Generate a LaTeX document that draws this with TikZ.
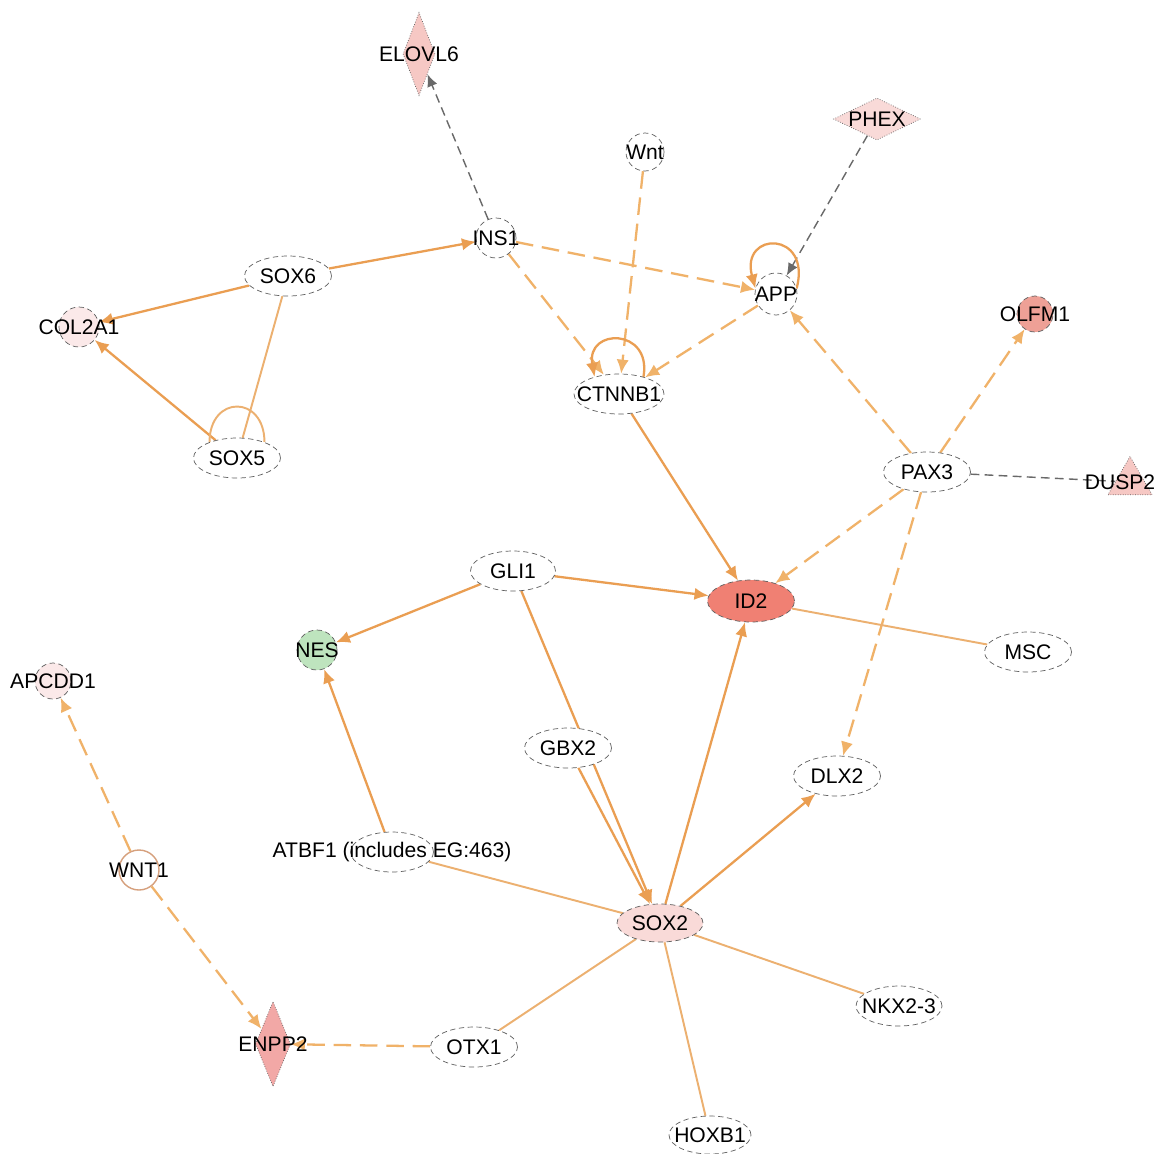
\documentclass[tikz,border=0pt]{standalone}
\usepackage{fontspec}
\setmainfont{Liberation Sans}
\usetikzlibrary{arrows.meta}
\usetikzlibrary{shapes,arrows}
\usetikzlibrary{shapes.geometric}

\definecolor{nodeline}{RGB}{95,95,95}
\definecolor{edgeorange}{RGB}{234,158,82}
\definecolor{dashorange}{RGB}{240,178,105}
\definecolor{bindorange}{RGB}{236,176,112}
\definecolor{graylink}{RGB}{105,105,105}
\definecolor{palepink}{RGB}{251,233,233}
\definecolor{lightpink}{RGB}{249,218,216}
\definecolor{midpink}{RGB}{246,200,196}
\definecolor{deeppink}{RGB}{242,168,166}
\definecolor{salmon}{RGB}{238,160,150}
\definecolor{idred}{RGB}{240,128,115}
\definecolor{nesgreen}{RGB}{190,228,190}
\definecolor{wntring}{RGB}{214,160,125}

\pgfdeclarelayer{paper}
\pgfdeclarelayer{bg}
\pgfsetlayers{paper,bg,main}

\begin{document}
\begin{tikzpicture}[x=0.02cm,y=-0.02cm,font=\fontsize{12}{14}\selectfont]
\tikzset{
    gene/.style={
        draw=nodeline,
        densely dashed,
        line width=0.4pt,
        fill=white,
        ellipse,
        minimum width=1.74cm,
        minimum height=0.8cm,
        inner sep=0pt,
        label={center:#1}
    },
    gene-circle/.style={
        draw=nodeline,
        densely dashed,
        line width=0.4pt,
        fill=white,
        circle,
        minimum size=0.8cm,
        inner sep=0pt,
        label={center:#1}
    },
    gene-diamond/.style={
        draw=nodeline,
        densely dotted,
        line width=0.4pt,
        diamond,
        inner sep=0pt,
        label={center:#1}
    },
    gene-triangle/.style={
        draw=nodeline,
        densely dotted,
        line width=0.4pt,
        regular polygon,
        regular polygon sides=3,
        minimum size=1.02cm,
        inner sep=0pt
    },
    act/.style={
        draw=edgeorange,
        line width=1.3pt,
        -{Latex[length=8pt,width=7pt]}
    },
    act-dashed/.style={
        act,
        draw=dashorange,
        dash pattern=on 10pt off 5pt
    },
    bind/.style={
        draw=bindorange,
        line width=1.1pt
    },
    gray-dashed/.style={
        draw=graylink,
        line width=0.8pt,
        dash pattern=on 5pt off 3pt
    },
}
\useasboundingbox (0,0) rectangle (1176,1153);
\begin{pgfonlayer}{paper}
\fill[white] (0,0) rectangle (1176,1153);
\end{pgfonlayer}

% top row
\node[gene-diamond=ELOVL6, fill=midpink, minimum width=0.64cm, minimum height=1.66cm] (elovl6) at (419,54) {};
\node[gene-circle=Wnt, minimum size=0.76cm] (wnt) at (645,152) {};
\node[gene-diamond=PHEX, fill=lightpink, minimum width=1.74cm, minimum height=0.84cm] (phex) at (877,119) {};
\node[gene-circle=INS1] (ins1) at (496,238) {};
\node[gene=SOX6] (sox6) at (288,276) {};
\node[gene-circle=COL2A1, fill=palepink] (col2a1) at (79,327) {};
\node[gene-circle=APP, minimum size=0.84cm] (app) at (776,294) {};
\node[gene-circle=OLFM1, fill=salmon, minimum size=0.72cm] (olfm1) at (1035,314) {};
\node[gene=CTNNB1, minimum width=1.8cm] (ctnnb1) at (619,394) {};
\node[gene=SOX5] (sox5) at (237,458) {};
\node[gene=PAX3] (pax3) at (927,472) {};
\node[gene-triangle, fill=midpink, label={[xshift=-0.2cm]center:DUSP2}] (dusp2) at (1130,482) {};

% middle
\node[gene=GLI1, minimum width=1.7cm] (gli1) at (513,571) {};
\node[gene=ID2, fill=idred, minimum height=0.84cm] (id2) at (751,601) {};
\node[gene-circle=NES, fill=nesgreen] (nes) at (317,650) {};
\node[gene=MSC] (msc) at (1028,652) {};
\node[gene-circle=APCDD1, fill=palepink, minimum size=0.72cm] (apcdd1) at (53,681) {};
\node[gene=GBX2] (gbx2) at (568,748) {};
\node[gene=DLX2] (dlx2) at (837,776) {};
\node[gene={{ATBF1 (includes EG:463)}}, minimum width=1.66cm] (atbf1) at (392,852) {};
\node[gene-circle=WNT1, draw=wntring, solid, line width=0.8pt] (wnt1) at (139,870) {};

% bottom
\node[gene=SOX2, fill=lightpink, minimum width=1.72cm, minimum height=0.76cm] (sox2) at (660,923) {};
\node[gene=NKX2-3, minimum width=1.72cm] (nkx23) at (899,1006) {};
\node[gene-diamond=ENPP2, fill=deeppink, minimum width=0.7cm, minimum height=1.7cm] (enpp2) at (273,1044) {};
\node[gene=OTX1] (otx1) at (474,1047) {};
\node[gene=HOXB1, minimum width=1.64cm, minimum height=0.76cm] (hoxb1) at (710,1135) {};

\begin{pgfonlayer}{bg}
\draw[gray-dashed, -{Latex[length=7pt,width=6pt]}] (ins1) -- (elovl6);
\draw[gray-dashed, -{Latex[length=7pt,width=6pt]}] (phex) -- (app);
\draw[gray-dashed] (pax3) -- (dusp2);

\draw[act] (sox6) -- (ins1);
\draw[act] (sox6) -- (col2a1);
\draw[act] (sox5) -- (col2a1);
\draw[bind] (sox6) -- (sox5);
\draw[bind] (sox5.150) .. controls +(90:0.95cm) and +(90:0.95cm) .. (sox5.30);

\draw[act-dashed] (ins1) -- (app);
\draw[act-dashed] (ins1) -- (ctnnb1);
\draw[act-dashed] (wnt) -- (ctnnb1);
\draw[act-dashed] (app) -- (ctnnb1);
\draw[act] (app.15) .. controls +(75:1.2cm) and +(105:1.2cm) .. (app.165);
\draw[act] (ctnnb1.35) .. controls +(80:1cm) and +(100:1cm) .. (ctnnb1.145);

\draw[act-dashed] (pax3) -- (app);
\draw[act-dashed] (pax3) -- (olfm1);
\draw[act-dashed] (pax3) -- (id2);
\draw[act-dashed] (pax3) -- (dlx2);

\draw[act] (ctnnb1) -- (id2);
\draw[act] (gli1) -- (id2);
\draw[act] (gli1) -- (nes);
\draw[act] (gli1) -- (sox2);
\draw[act] (gbx2) -- (sox2);
\draw[bind] (id2) -- (msc);
\draw[act] (sox2) -- (id2);
\draw[act] (sox2) -- (dlx2);
\draw[act] (atbf1) -- (nes);
\draw[bind] (atbf1) -- (sox2);
\draw[bind] (sox2) -- (nkx23);
\draw[bind] (sox2) -- (otx1);
\draw[bind] (sox2) -- (hoxb1);

\draw[act-dashed] (otx1) -- (enpp2);
\draw[act-dashed] (wnt1) -- (apcdd1);
\draw[act-dashed] (wnt1) -- (enpp2);
\end{pgfonlayer}
\end{tikzpicture}
\end{document}
